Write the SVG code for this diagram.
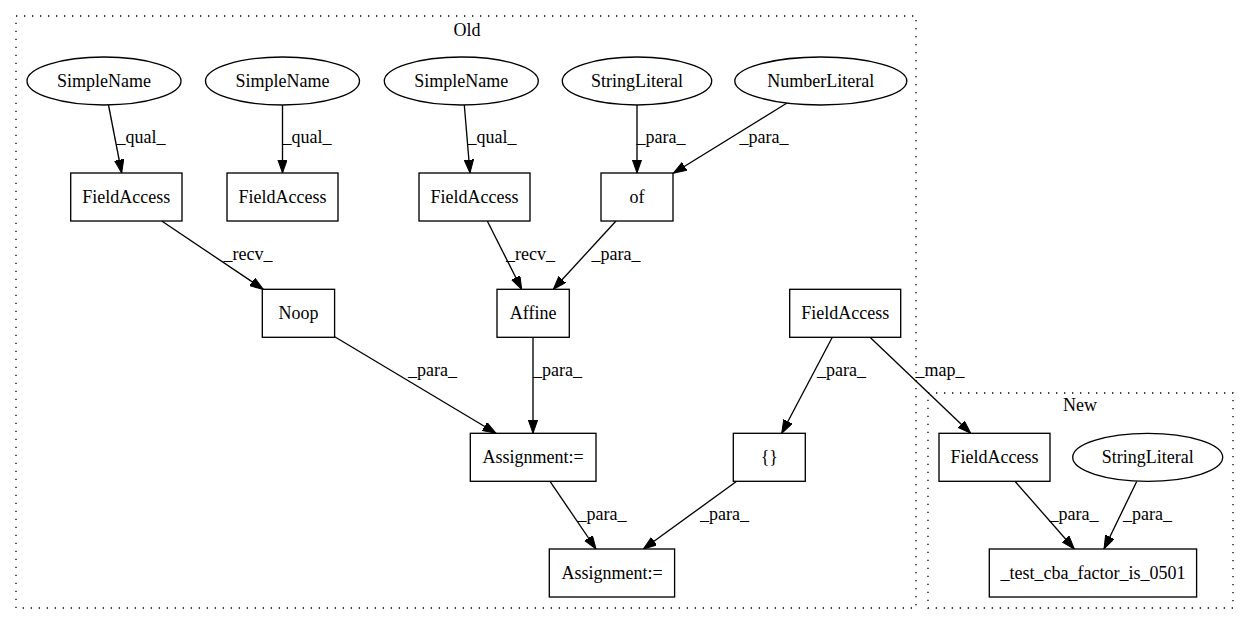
<svg xmlns="http://www.w3.org/2000/svg" width="1249" height="624" viewBox="0 0 1249 624">
<style>
text{font-family:"Liberation Serif","Times New Roman",serif;font-size:18px;fill:#000;text-anchor:middle}
.n{fill:#fff;stroke:#000;stroke-width:1.33}
.c{fill:none;stroke:#000;stroke-width:1.33;stroke-dasharray:1.33,6.67}
.e{fill:none;stroke:#000;stroke-width:1.33;marker-end:url(#ah)}
</style>
<defs>
<marker id="ah" markerWidth="14" markerHeight="10" refX="13.3" refY="4.67" orient="auto" markerUnits="userSpaceOnUse">
<path d="M0,0 L13.3,4.67 L0,9.33 z" fill="#000" stroke="#000" stroke-width="1"/>
</marker>
</defs>
<rect width="1249" height="624" fill="#fff"/>
<g id="cluster_old"><rect class="c" x="16" y="16" width="900" height="592"/><text x="467" y="36">Old</text></g>
<g id="cluster_new"><rect class="c" x="928" y="393" width="305" height="215"/><text x="1080" y="411">New</text></g>
<g id="connectors">
<line class="e" x1="108.5" y1="105" x2="121.7" y2="173"/><text x="141" y="143">_qual_</text>
<line class="e" x1="282.5" y1="105" x2="282.5" y2="173"/><text x="307" y="143">_qual_</text>
<line class="e" x1="464.3" y1="105" x2="470" y2="173"/><text x="492" y="143">_qual_</text>
<line class="e" x1="637" y1="105" x2="637" y2="173"/><text x="661" y="143">_para_</text>
<line class="e" x1="786.7" y1="103.3" x2="673.3" y2="173.3"/><text x="764" y="143">_para_</text>
<line class="e" x1="161.7" y1="221" x2="263.3" y2="289.3"/><text x="248" y="260">_recv_</text>
<line class="e" x1="487.3" y1="221" x2="521.7" y2="289.3"/><text x="530.5" y="260">_recv_</text>
<line class="e" x1="616" y1="221" x2="553.3" y2="289.3"/><text x="616" y="260">_para_</text>
<line class="e" x1="334.7" y1="336.7" x2="496" y2="433.3"/><text x="432.5" y="376">_para_</text>
<line class="e" x1="533" y1="337.3" x2="533" y2="433.3"/><text x="557.5" y="376">_para_</text>
<line class="e" x1="832.3" y1="337.3" x2="781.7" y2="433.3"/><text x="841.5" y="376">_para_</text>
<line class="e" x1="870" y1="337.3" x2="970.7" y2="433.3"/><text x="940" y="376">_map_</text>
<line class="e" x1="550" y1="481.3" x2="596" y2="549"/><text x="602" y="520">_para_</text>
<line class="e" x1="736.7" y1="481.3" x2="643.3" y2="549"/><text x="724.5" y="520">_para_</text>
<line class="e" x1="1015" y1="481.3" x2="1074.3" y2="549"/><text x="1074" y="520">_para_</text>
<line class="e" x1="1136.7" y1="481.5" x2="1104" y2="549"/><text x="1147.5" y="520">_para_</text>
</g>
<g id="sn1"><ellipse class="n" cx="104" cy="81" rx="77" ry="24"/><text x="104" y="86.6">SimpleName</text></g>
<g id="sn2"><ellipse class="n" cx="282.5" cy="81" rx="77" ry="24"/><text x="282.5" y="86.6">SimpleName</text></g>
<g id="sn3"><ellipse class="n" cx="461.3" cy="81" rx="77" ry="24"/><text x="461.3" y="86.6">SimpleName</text></g>
<g id="sl1"><ellipse class="n" cx="637" cy="81" rx="74.7" ry="24"/><text x="637" y="86.6">StringLiteral</text></g>
<g id="nl1"><ellipse class="n" cx="820.8" cy="81" rx="86" ry="24"/><text x="820.8" y="86.6">NumberLiteral</text></g>
<g id="fa1"><rect class="n" x="70.7" y="173" width="111.3" height="48"/><text x="126.3" y="202.6">FieldAccess</text></g>
<g id="fa2"><rect class="n" x="227" y="173" width="111" height="48"/><text x="282.5" y="202.6">FieldAccess</text></g>
<g id="fa3"><rect class="n" x="419" y="173" width="111" height="48"/><text x="474.5" y="202.6">FieldAccess</text></g>
<g id="of"><rect class="n" x="601" y="173" width="72" height="48"/><text x="637" y="202.6">of</text></g>
<g id="noop"><rect class="n" x="262.3" y="289.3" width="72.3" height="48"/><text x="298.5" y="318.9">Noop</text></g>
<g id="affine"><rect class="n" x="497" y="289.3" width="72.3" height="48"/><text x="533.2" y="318.9">Affine</text></g>
<g id="fa4"><rect class="n" x="789.7" y="289.3" width="111" height="48"/><text x="845.2" y="318.9">FieldAccess</text></g>
<g id="assign1"><rect class="n" x="470.3" y="433.3" width="125.7" height="48"/><text x="533.2" y="462.9">Assignment:=</text></g>
<g id="braces"><rect class="n" x="733.3" y="433.3" width="72" height="48"/><text x="769.3" y="462.9">{}</text></g>
<g id="assign2"><rect class="n" x="549.3" y="549" width="125.3" height="48"/><text x="612" y="578.6">Assignment:=</text></g>
<g id="fa_new"><rect class="n" x="939" y="433.3" width="111" height="48"/><text x="994.5" y="462.9">FieldAccess</text></g>
<g id="sl_new"><ellipse class="n" cx="1147.7" cy="457.3" rx="75" ry="24"/><text x="1147.7" y="462.9">StringLiteral</text></g>
<g id="test"><rect class="n" x="989.3" y="549" width="207.3" height="48"/><text x="1093" y="578.6">_test_cba_factor_is_0501</text></g>
</svg>
